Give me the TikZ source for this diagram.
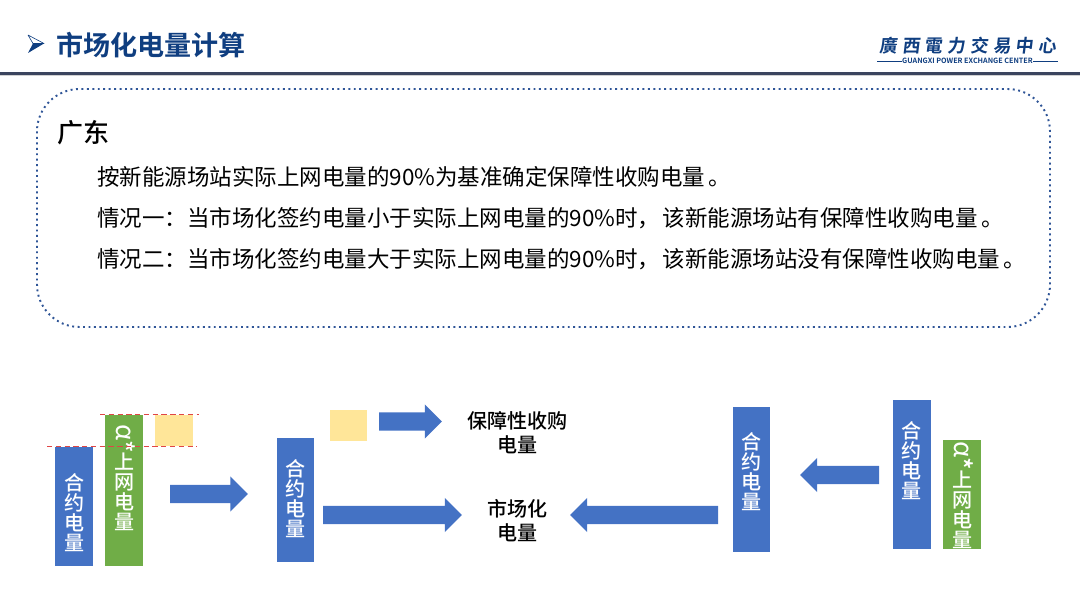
\documentclass[tikz,border=0pt]{standalone}
\usepackage{fontspec}
\usepackage{xcolor}
\usepackage{graphicx}
\usetikzlibrary{shapes.arrows}
\setmainfont{Noto Sans CJK SC}
\newfontfamily\medfont{Noto Sans CJK SC Medium}
\newfontfamily\heavyfont{Noto Sans CJK SC Bold}
\newfontfamily\logofont[FakeSlant=0.12,LetterSpace=27]{Noto Sans CJK TC Bold}
\definecolor{titleblue}{RGB}{15,62,128}
\definecolor{headrule}{RGB}{59,68,94}
\definecolor{boxdot}{RGB}{47,85,151}
\definecolor{barblue}{RGB}{68,114,196}
\definecolor{bargreen}{RGB}{112,173,71}
\definecolor{baryellow}{RGB}{255,230,153}
\definecolor{cutred}{RGB}{224,70,70}
\newcommand{\alphastar}{\rotatebox[origin=c]{-90}{\raisebox{1.6pt}{\scalebox{1.3}{\normalfont α}}\scalebox{1.3}{*}}}

\begin{document}
\begin{tikzpicture}[x=0.02cm, y=-0.02cm,
            bar/.style={minimum width=0.76cm, inner sep=0pt, outer sep=0pt},
            bluebar/.style={bar, fill=barblue},
            greenbar/.style={bar, fill=bargreen},
            yellowbox/.style={bar, fill=baryellow, minimum height=0.63cm},
            bartext/.style={text=white, align=center, inner sep=0pt, font=\medfont\fontsize{11.4}{11.4}\selectfont},
            sidetext/.style={align=center, inner sep=0pt, font=\medfont\fontsize{11.4}{13.7}\selectfont},
            bodytext/.style={anchor=west, inner sep=0pt, font=\fontsize{12.8}{15}\selectfont},
            blockarrow/.style={single arrow, fill=barblue, draw=none, inner sep=0.175cm, outer sep=0pt,
            single arrow head extend=0.16cm, minimum width=0.67cm, anchor=tail},
            cutline/.style={cutred, densely dashed, line width=0.4pt}]
          \useasboundingbox (0,0) rectangle (1080,608);
          % header
          \fill[titleblue] (33,43.5) -- (44,43.5) -- (28,53) -- cycle;
          \draw[titleblue, line width=0.35pt, line join=round] (28,35) -- (44,43.5) -- (33,43.5) -- cycle;
          \node[anchor=west, inner sep=0pt, text=titleblue, font=\heavyfont\fontsize{15.4}{15.4}\selectfont] (title) at (56,45) {市场化电量计算};
          \node[inner sep=0pt, text=titleblue, font=\logofont\fontsize{10.2}{10.2}\selectfont] (logo) at (968,46) {廣西電力交易中心};
          \node[inner sep=0pt, text=titleblue, font=\heavyfont\fontsize{4.1}{4.1}\selectfont] (logoen) at (967.5,61) {GUANGXI POWER EXCHANGE CENTER};
          \coordinate (logol) at (877,61);
          \coordinate (logor) at (1058,61);
          \draw[titleblue, line width=0.5pt] (logol) -- (logoen.west);
          \draw[titleblue, line width=0.5pt] (logoen.east) -- (logor);
          \fill[black!18] (0,74) rectangle (1080,76);
          \fill[headrule] (0,72.5) rectangle (1080,74.8);
          % text box
          \draw[boxdot, line width=1.1pt, dotted, rounded corners=0.85cm] (37,89) rectangle (1050,327);
          \node[anchor=west, inner sep=0pt, font=\medfont\fontsize{14.8}{14.8}\selectfont] (region) at (57.5,133) {广东};
          \node[bodytext] (rule) at (97,177) {按新能源场站实际上网电量的90\%为基准确定保障性收购电量\hspace{2pt}。};
          \node[bodytext] (caseone) at (97,218) {情况一：当市场化签约电量小于实际上网电量的90\%时，\hspace{1.5pt}该新能源场站有保障性收购电量\hspace{2pt}。};
          \node[bodytext] (casetwo) at (97,259) {情况二：当市场化签约电量大于实际上网电量的90\%时，\hspace{1.5pt}该新能源场站没有保障性收购电量\hspace{2pt}。};
          % left bars
          \node[bluebar, minimum height=2.38cm] (contract) at (74,506.5) {};
          \node[greenbar, minimum height=3.02cm] (online) at (124,490.5) {};
          \node[yellowbox] (excess) at (174,430.5) {};
          \node[bartext] (contracttext) at (75,512.5) {合\\约\\电\\量};
          \node[bartext] (onlinetext) at (124.5,477.5) {\alphastar\\[-1pt]上\\网\\电\\量};
          \coordinate (cuta) at (47,446);
          \coordinate (cutb) at (197,446);
          \coordinate (cutc) at (100,414.5);
          \coordinate (cutd) at (199,414.5);
          \draw[cutline] (cuta) -- (cutb);
          \draw[cutline] (cutc) -- (cutd);
          \node[blockarrow, minimum height=1.56cm, single arrow head extend=0.17cm, minimum width=0.7cm] (splitarrow) at (170,494) {};
          % middle
          \node[bluebar, minimum width=0.74cm, minimum height=2.48cm] (contractmid) at (295.5,500) {};
          \node[bartext] (contractmidtext) at (296,499) {合\\约\\电\\量};
          \node[yellowbox] (excessmid) at (348.5,425.7) {};
          \node[blockarrow, minimum height=1.26cm] (toguarantee) at (379,421.5) {};
          \node[blockarrow, minimum height=2.78cm] (tomarket) at (323,515) {};
          \node[sidetext] (guarantee) at (517.5,433) {保障性收购\\电量};
          \node[sidetext] (market) at (517.5,521) {市场化\\电量};
          % right bars
          \node[blockarrow, shape border rotate=180, minimum height=2.96cm] (frommid) at (718,515) {};
          \node[bluebar, minimum width=0.74cm, minimum height=2.9cm] (contractres) at (751.5,479.5) {};
          \node[bartext] (contractrestext) at (752,472) {合\\约\\电\\量};
          \node[blockarrow, shape border rotate=180, minimum height=1.58cm] (fromright) at (879,475) {};
          \node[bluebar, minimum height=2.98cm] (contractright) at (912,474.5) {};
          \node[bartext] (contractrighttext) at (912,461) {合\\约\\电\\量};
          \node[greenbar, minimum height=2.18cm] (onlineright) at (962,494.5) {};
          \node[bartext] (onlinerighttext) at (962.5,495) {\alphastar\\[-1pt]上\\网\\电\\量};
        \end{tikzpicture}
\end{document}
